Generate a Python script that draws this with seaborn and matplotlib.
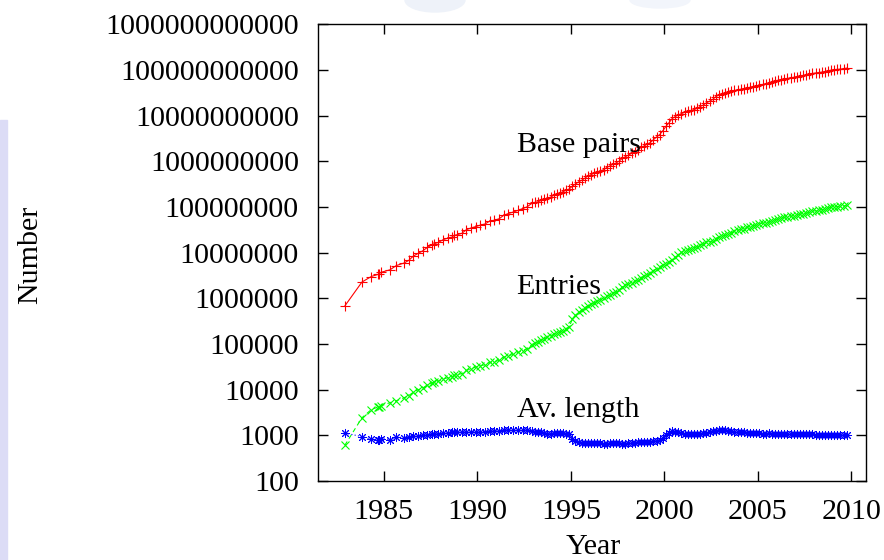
import pandas as pd
import matplotlib
matplotlib.use("Agg")
import matplotlib.pyplot as plt
import seaborn as sns
from matplotlib.ticker import FixedLocator, FuncFormatter, NullLocator
from matplotlib.patches import Rectangle, Ellipse

# GenBank releases (year-month of release)
releases = [
    "1982-12", "1983-11", "1984-05", "1984-09", "1984-10", "1984-11",
    "1985-05", "1985-09",
    "1986-02", "1986-05", "1986-08", "1986-11",
    "1987-02", "1987-05", "1987-08", "1987-09", "1987-12",
    "1988-03", "1988-06", "1988-09", "1988-10", "1988-12",
    "1989-03", "1989-06", "1989-09", "1989-12",
    "1990-03", "1990-06", "1990-09", "1990-12",
    "1991-03", "1991-06", "1991-09", "1991-12",
    "1992-03", "1992-06", "1992-09", "1992-12",
    "1993-02", "1993-04", "1993-06", "1993-08", "1993-10", "1993-12",
    "1994-02", "1994-04", "1994-06", "1994-08", "1994-10", "1994-12",
    "1995-02", "1995-04", "1995-06", "1995-08", "1995-10", "1995-12",
    "1996-02", "1996-04", "1996-06", "1996-08", "1996-10", "1996-12",
    "1997-02", "1997-04", "1997-06", "1997-08", "1997-10", "1997-12",
    "1998-02", "1998-04", "1998-06", "1998-08", "1998-10", "1998-12",
    "1999-02", "1999-04", "1999-06", "1999-08", "1999-10", "1999-12",
    "2000-02", "2000-04", "2000-06", "2000-08", "2000-10", "2000-12",
    "2001-02", "2001-04", "2001-06", "2001-08", "2001-10", "2001-12",
    "2002-02", "2002-04", "2002-06", "2002-08", "2002-10", "2002-12",
    "2003-02", "2003-04", "2003-06", "2003-08", "2003-10", "2003-12",
    "2004-02", "2004-04", "2004-06", "2004-08", "2004-10", "2004-12",
    "2005-02", "2005-04", "2005-06", "2005-08", "2005-10", "2005-12",
    "2006-02", "2006-04", "2006-06", "2006-08", "2006-10", "2006-12",
    "2007-02", "2007-04", "2007-06", "2007-08", "2007-10", "2007-12",
    "2008-02", "2008-04", "2008-06", "2008-08", "2008-10", "2008-12",
    "2009-02", "2009-04", "2009-06", "2009-08", "2009-10",
]

base_pairs = [
    680338, 2274029, 3002088, 3323270, 3368765, 3689752,
    4211931, 5204420,
    5925429, 6765476, 8442357, 9615371,
    10961380, 13048473, 14855145, 15514776, 16752872,
    19156002, 20795279, 22019698, 23800000, 24690876,
    26382491, 31808784, 34762585, 37183950,
    40127752, 42495893, 49179285, 51306092,
    55169276, 65868799, 71947426, 77337678,
    83894652, 92160761, 101008486, 120242234,
    126212259, 129968355, 138904393, 147215633, 157152442, 163802597,
    180589455, 191393939, 201815802, 217102462, 230485928, 248499214,
    2.86e8, 3.19e8, 3.54e8, 3.85e8, 4.26e8, 4.77e8,
    5.12e8, 5.52e8, 5.87e8, 6.21e8, 6.52e8, 7.30e8,
    7.93e8, 8.55e8, 9.20e8, 1.010e9, 1.160e9, 1.260e9,
    1.373e9, 1.490e9, 1.620e9, 1.780e9, 2.009e9, 2.163e9,
    2.375e9, 2.570e9, 2.975e9, 3.400e9, 3.841e9, 4.653e9,
    5.805e9, 7.004e9, 8.604e9, 9.545e9, 1.0336e10, 1.1101e10,
    1.1720e10, 1.2418e10, 1.2973e10, 1.3543e10, 1.4396e10, 1.5850e10,
    1.7089e10, 1.9072e10, 2.0649e10, 2.2617e10, 2.6000e10, 2.8508e10,
    2.9924e10, 3.1099e10, 3.2528e10, 3.3865e10, 3.5599e10, 3.6553e10,
    3.7893e10, 3.8990e10, 4.0325e10, 4.1808e10, 4.3194e10, 4.4576e10,
    4.6849e10, 4.8236e10, 4.9398e10, 5.1674e10, 5.3655e10, 5.6038e10,
    5.9750e10, 6.1583e10, 6.3412e10, 6.5369e10, 6.6925e10, 6.9019e10,
    7.1292e10, 7.3078e10, 7.5742e10, 7.7248e10, 8.1563e10, 8.3874e10,
    8.5759e10, 8.7948e10, 8.9172e10, 9.2008e10, 9.5033e10, 9.9116e10,
    1.01467e11, 1.02980e11, 1.04599e11, 1.06074e11, 1.10119e11,
]

entries = [
    606, 2427, 3665, 4135, 4175, 4393,
    5204, 5700,
    6642, 7416, 8823, 9978,
    10913, 12534, 14020, 14584, 15465,
    17047, 18226, 19044, 20579, 21248,
    22479, 26317, 28791, 31229,
    33377, 35100, 39533, 41057,
    43903, 51418, 55627, 58952,
    65100, 71280, 78608, 97084,
    106684, 111911, 120134, 131328, 143492, 150744,
    162946, 169896, 182753, 196703, 215273, 237775,
    3.52e5, 4.25e5, 4.92e5, 5.56e5, 6.21e5, 6.95e5,
    7.42e5, 8.01e5, 8.62e5, 9.35e5, 1.021e6, 1.114e6,
    1.192e6, 1.285e6, 1.380e6, 1.520e6, 1.766e6, 1.919e6,
    2.042e6, 2.178e6, 2.355e6, 2.530e6, 2.838e6, 3.044e6,
    3.300e6, 3.560e6, 4.029e6, 4.450e6, 4.865e6, 5.354e6,
    5.691e6, 6.216e6, 7.077e6, 7.880e6, 8.875e6, 1.0106e7,
    1.0897e7, 1.1545e7, 1.2243e7, 1.2813e7, 1.3602e7, 1.4976e7,
    1.5465e7, 1.6769e7, 1.7471e7, 1.8197e7, 2.0400e7, 2.2319e7,
    2.3035e7, 2.3885e7, 2.5592e7, 2.7213e7, 2.9819e7, 3.0968e7,
    3.2549e7, 3.3676e7, 3.5532e7, 3.7343e7, 3.8941e7, 4.0604e7,
    4.2734e7, 4.4202e7, 4.5236e7, 4.6947e7, 4.9152e7, 5.2017e7,
    5.4584e7, 5.6621e7, 5.8890e7, 6.1132e7, 6.2765e7, 6.4894e7,
    6.7218e7, 6.9108e7, 7.1802e7, 7.3078e7, 7.7632e7, 8.0388e7,
    8.2853e7, 8.5500e7, 8.7660e7, 9.0557e7, 9.4229e7, 9.8868e7,
    1.00673e8, 1.02105e8, 1.03704e8, 1.05064e8, 1.08432e8,
]

year_ticks = [1985, 1990, 1995, 2000, 2005, 2010]
number_ticks = [1e2, 1e3, 1e4, 1e5, 1e6, 1e7, 1e8, 1e9, 1e10, 1e11, 1e12]

df = pd.DataFrame({"release": pd.to_datetime(releases, format="%Y-%m"),
                   "bp": base_pairs, "entries": entries})
df["year"] = df["release"].dt.year + (df["release"].dt.month - 1) / 12
df["avlen"] = df["bp"] / df["entries"]

sns.set_style("ticks")
plt.rcParams["font.family"] = ["Liberation Serif", "DejaVu Serif"]
plt.rcParams["text.color"] = "black"
plt.rcParams["axes.labelcolor"] = "black"
plt.rcParams["xtick.color"] = "black"
plt.rcParams["ytick.color"] = "black"

FS = 21.6

fig, ax = plt.subplots(figsize=(8.84, 5.6), dpi=100)
fig.subplots_adjust(left=0.3601, right=0.98, top=0.9566, bottom=0.1411)

# faint slide decoration in the background
fig.patches.append(Rectangle((0, 0), 7 / 884, 440 / 560, transform=fig.transFigure,
                             color="#dcdcf6", zorder=-5))
fig.patches.append(Ellipse((435 / 884, 1.0), 60 / 884, 24 / 560, transform=fig.transFigure,
                           color="#eef2f9", zorder=-5))
fig.patches.append(Ellipse((660 / 884, 1.0), 60 / 884, 16 / 560, transform=fig.transFigure,
                           color="#f2f5fb", zorder=-5))

sns.lineplot(data=df, x="year", y="bp", ax=ax, estimator=None, color="#ff0000",
             marker="+", markersize=6.5, markeredgewidth=0.8, markeredgecolor="#ff0000",
             linewidth=0.8)
sns.lineplot(data=df, x="year", y="entries", ax=ax, estimator=None, color="#00ff00",
             marker="x", markersize=5.5, markeredgewidth=0.8, markeredgecolor="#00ff00",
             linewidth=0.8, linestyle=(0, (4, 3)))
sns.lineplot(data=df, x="year", y="avlen", ax=ax, estimator=None, color="#0000ff",
             marker=(8, 2, 0), markersize=6.5, markeredgewidth=0.7, markeredgecolor="#0000ff",
             linewidth=0.8, linestyle=(0, (1, 2)))

ax.set_yscale("log")
ax.set_xlim(1981.5, 2010.8)
ax.set_ylim(1e2, 1e12)
ax.xaxis.set_major_locator(FixedLocator(year_ticks))
ax.yaxis.set_major_locator(FixedLocator(number_ticks))
ax.yaxis.set_minor_locator(NullLocator())
ax.yaxis.set_major_formatter(FuncFormatter(lambda v, _: f"{v:.0f}"))

ax.tick_params(direction="in", length=7, width=1, top=True, right=True,
               labelsize=FS, color="black", labelcolor="black")
ax.tick_params(axis="x", pad=13)
ax.tick_params(axis="y", pad=14)
for sp in ax.spines.values():
    sp.set_color("black")
    sp.set_linewidth(1)

ax.set_xlabel("Year", fontsize=FS)
ax.set_ylabel("Number", fontsize=FS)
ax.xaxis.set_label_coords(0.501, -0.117)
ax.yaxis.set_label_coords(-0.502, 0.495)

ax.text(1992.1, 10 ** 9.204, "Base pairs", fontsize=FS, va="baseline")
ax.text(1992.1, 10 ** 6.095, "Entries", fontsize=FS, va="baseline")
ax.text(1992.1, 10 ** 3.401, "Av. length", fontsize=FS, va="baseline")

fig.savefig("out.png", dpi=100)
